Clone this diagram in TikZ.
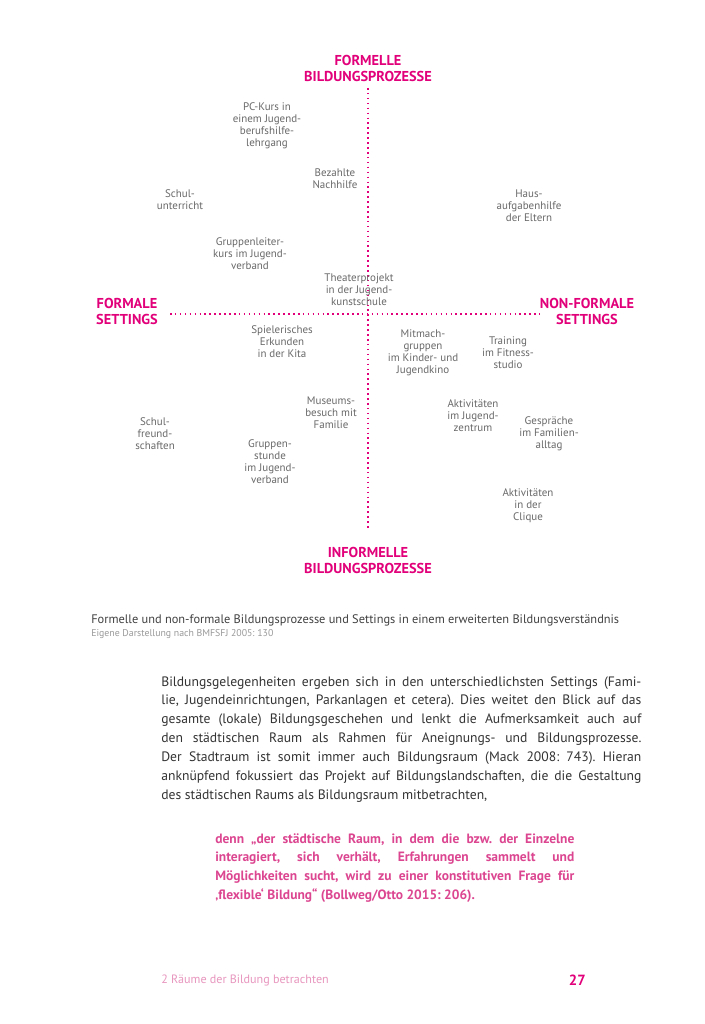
\documentclass[tikz,border=0pt]{standalone}
\usepackage{fontspec}
\setmainfont{PT Sans}
\usepackage{tikz}
\usetikzlibrary{positioning}
\definecolor{bildmagenta}{RGB}{226,0,122}
\definecolor{bildquote}{RGB}{220,70,145}
\definecolor{bildfoot}{RGB}{232,150,190}
\definecolor{labelgray}{RGB}{105,105,105}
\frenchspacing

\begin{document}
\begin{tikzpicture}[x=0.025cm, y=-0.025cm,
  axis/.style={draw=bildmagenta, line width=1.1pt, dash pattern=on 1.1pt off 2.4pt},
  pole/.style={font=\fontsize{10.2}{11.4}\selectfont\bfseries, text=bildmagenta, align=center, inner sep=1pt},
  item/.style={font=\fontsize{7.8}{8.6}\selectfont, text=labelgray, align=center, inner sep=1pt}]
 \useasboundingbox[fill=white] (0,0) rectangle (704,1024);
 % axes
 \coordinate (top) at (368,88);
 \coordinate (bottom) at (368,530);
 \coordinate (left) at (170,314);
 \coordinate (right) at (540,314);
 \draw[axis] (top) -- (bottom);
 \draw[axis] (left) -- (right);
 \node[pole] (formell) at (368,68){FORMELLE\\BILDUNGSPROZESSE};
 \node[pole] (informell) at (368,560){INFORMELLE\\BILDUNGSPROZESSE};
 \node[pole] (formal) at (127,311){FORMALE\\SETTINGS};
 \node[pole] (nonformal) at (587,311){NON-FORMALE\\SETTINGS};
 % settings
 \node[item] (pckurs) at (267,126){PC-Kurs in\\einem Jugend-\\berufshilfe-\\lehrgang};
 \node[item] (nachhilfe) at (335,179){Bezahlte\\Nachhilfe};
 \node[item] (unterricht) at (180,200){Schul-\\unterricht};
 \node[item] (leiterkurs) at (250,254){Gruppenleiter-\\kurs im Jugend-\\verband};
 \node[item] (theater) at (359,290){Theaterprojekt\\in der Jugend-\\kunstschule};
 \node[item] (hausaufgaben) at (529,206){Haus-\\aufgabenhilfe\\der Eltern};
 \node[item] (kita) at (282,342){Spielerisches\\Erkunden\\in der Kita};
 \node[item] (kino) at (423,353){Mitmach-\\gruppen\\im Kinder- und\\Jugendkino};
 \node[item] (fitness) at (508,353){Training\\im Fitness-\\studio};
 \node[item] (museum) at (331,413){Museums-\\besuch mit\\Familie};
 \node[item] (freunde) at (155,434){Schul-\\freund-\\schaften};
 \node[item] (gruppenstunde) at (270,462){Gruppen-\\stunde\\im Jugend-\\verband};
 \node[item] (zentrum) at (473,416){Aktivitäten\\im Jugend-\\zentrum};
 \node[item] (familie) at (549,434){Gespräche\\im Familien-\\alltag};
 \node[item] (clique) at (528,506){Aktivitäten\\in der\\Clique};
 % caption
 \node[anchor=west, inner sep=0, font=\fontsize{8.8}{10}\selectfont, text=black!75] (caption) at (91,620){Formelle und non-formale Bildungsprozesse und Settings in einem erweiterten Bildungsverständnis};
 \node[anchor=west, inner sep=0, font=\fontsize{7}{8}\selectfont, text=black!40] (source) at (91,634){Eigene Darstellung nach BMFSFJ 2005: 130};
 % text
 \node[anchor=north west, inner sep=0, text width=12cm, align=justify, font=\fontsize{9.7}{13.46}\selectfont, text=black!80] (body) at (161,676){Bildungsgelegenheiten ergeben sich in den unterschiedlichsten Settings (Fami-\linebreak lie, Jugendeinrichtungen, Parkanlagen et cetera). Dies weitet den Blick auf das\linebreak gesamte (lokale) Bildungsgeschehen und lenkt die Aufmerksamkeit auch auf\linebreak den städtischen Raum als Rahmen für Aneignungs- und Bildungsprozesse.\linebreak Der Stadtraum ist somit immer auch Bildungsraum (Mack 2008: 743). Hieran\linebreak anknüpfend fokussiert das Projekt auf Bildungslandschaften, die die Gestaltung\linebreak des städtischen Raums als Bildungsraum mitbetrachten,};
 \node[anchor=north west, inner sep=0, text width=8.975cm, align=justify, font=\fontsize{9.6}{13.46}\selectfont\bfseries, text=bildquote] (quote) at (215,833){denn „der städtische Raum, in dem die bzw. der Einzelne\linebreak interagiert, sich verhält, Erfahrungen sammelt und\linebreak Möglichkeiten sucht, wird zu einer konstitutiven Frage für\linebreak ‚flexible‘ Bildung“ (Bollweg/Otto 2015: 206).};
 % footer
 \node[anchor=west, inner sep=0, font=\fontsize{8.6}{10}\selectfont, text=bildfoot] (chapter) at (161,980){2 Räume der Bildung betrachten};
 \node[anchor=east, inner sep=0, font=\fontsize{10.5}{12}\selectfont\bfseries, text=bildmagenta] (page) at (586,980){27};
\end{tikzpicture}
\end{document}
